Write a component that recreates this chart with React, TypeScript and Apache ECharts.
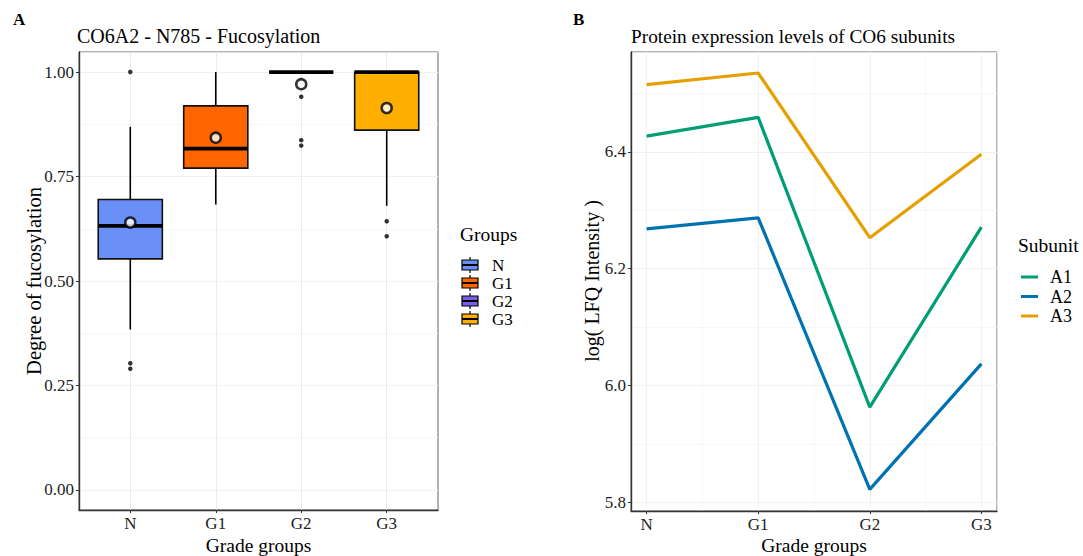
import React, { useEffect, useRef } from "react";
import * as echarts from "echarts";

const FONT = '"Liberation Serif", "Times New Roman", serif';

// ---- Panel A data ----
const groups = ["N", "G1", "G2", "G3"];
const groupColors = ["#6A8FF6", "#FF6600", "#7A5CE6", "#FFAF00"];
// [lower whisker, Q1, median, Q3, upper whisker]
const statsN = [0.384, 0.553, 0.632, 0.695, 0.869];
const statsG1 = [0.683, 0.77, 0.817, 0.919, 1.0];
const statsG2 = [1.0, 1.0, 1.0, 1.0, 1.0];
const statsG3 = [0.68, 0.861, 1.0, 1.0, 1.0];
const groupMeans = [0.64, 0.843, 0.971, 0.914];
const outliersN = [1.0, 0.303, 0.29];
const outliersG1: number[] = [];
const outliersG2 = [0.941, 0.837, 0.824];
const outliersG3 = [0.643, 0.607];
const leftYTicks = [0, 0.25, 0.5, 0.75, 1.0];

// ---- Panel B data ----
const subunits = ["A1", "A2", "A3"];
const subunitColors = ["#009E73", "#0072B2", "#E69F00"];
const seriesA1 = [6.427, 6.459, 5.963, 6.271];
const seriesA2 = [6.268, 6.287, 5.822, 6.037];
const seriesA3 = [6.515, 6.535, 6.253, 6.396];
const rightYTicks = [5.8, 6.0, 6.2, 6.4];
const xTickValues = [0, 1, 2, 3];

export default function App() {
  const ref = useRef<HTMLDivElement>(null);

  useEffect(() => {
    if (!ref.current) return;
    const chart = echarts.init(ref.current, undefined, { renderer: "svg" });

    const allStats = [statsN, statsG1, statsG2, statsG3];
    const allOutliers = [outliersN, outliersG1, outliersG2, outliersG3];
    const outlierData: number[][] = [];
    allOutliers.forEach((arr, i) => arr.forEach((v) => outlierData.push([i, v])));

    const majorGrid = { show: true, lineStyle: { color: "#EBEBEB", width: 1 } };
    const minorGrid = { show: true, lineStyle: { color: "#F3F3F3", width: 0.7 } };
    const tickLabel = { fontSize: 17, color: "#222", fontFamily: FONT };
    const axisLine = { show: true, onZero: false, lineStyle: { color: "#333", width: 1.4 } };
    const axisTick = { show: true, length: 3, lineStyle: { color: "#333", width: 1 } };
    const hiddenAxis = {
      axisLine: { show: false },
      axisTick: { show: false },
      axisLabel: { show: false },
    };
    const catFormatter = (v: number) => {
      const r = Math.round(v);
      return Math.abs(v - r) < 1e-6 && r >= 0 && r < groups.length ? groups[r] : "";
    };
    const multFormatter = (step: number, dec: number) => (v: number) => {
      const r = Math.round(v / step) * step;
      return Math.abs(v - r) < 1e-6 ? r.toFixed(dec) : "";
    };

    const legendRowsA = groups.map((g, i) => {
      const cy = 265 + i * 18;
      return {
        type: "group",
        children: [
          { type: "line", shape: { x1: 470, y1: cy - 8, x2: 470, y2: cy + 8 }, style: { stroke: "#000", lineWidth: 1.2 } },
          { type: "rect", shape: { x: 462, y: cy - 5, width: 16, height: 10 }, style: { fill: groupColors[i], stroke: "#000", lineWidth: 1.2 } },
          { type: "line", shape: { x1: 462, y1: cy, x2: 478, y2: cy }, style: { stroke: "#000", lineWidth: 2 } },
          { type: "text", x: 492, y: cy, style: { text: g, fontSize: 17, fontFamily: FONT, fill: "#000", textVerticalAlign: "middle" } },
        ],
      };
    });
    const legendRowsB = subunits.map((s, i) => {
      const cy = 277 + i * 19.5;
      return {
        type: "group",
        children: [
          { type: "line", shape: { x1: 1021, y1: cy, x2: 1038, y2: cy }, style: { stroke: subunitColors[i], lineWidth: 3 } },
          { type: "text", x: 1050, y: cy, style: { text: s, fontSize: 18, fontFamily: FONT, fill: "#000", textVerticalAlign: "middle" } },
        ],
      };
    });

    const option: any = {
      animation: false,
      backgroundColor: "#fff",
      textStyle: { fontFamily: FONT },
      grid: [
        { left: 79, top: 52, width: 359, height: 458, show: true, borderColor: "#666", borderWidth: 1, backgroundColor: "#fff" },
        { left: 631, top: 52, width: 366, height: 459, show: true, borderColor: "#666", borderWidth: 1, backgroundColor: "#fff" },
      ],
      xAxis: [
        {
          type: "value", gridIndex: 0, min: -0.6, max: 3.6, minInterval: 1, maxInterval: 1,
          axisLine, axisTick: { ...axisTick, customValues: xTickValues },
          axisLabel: { ...tickLabel, margin: 5, customValues: xTickValues, formatter: catFormatter },
          splitLine: majorGrid,
        },
        {
          type: "value", gridIndex: 1, min: -0.14, max: 3.14, minInterval: 1, maxInterval: 1,
          axisLine, axisTick: { ...axisTick, customValues: xTickValues },
          axisLabel: { ...tickLabel, margin: 5, customValues: xTickValues, formatter: catFormatter },
          splitLine: majorGrid,
        },
        {
          type: "value", gridIndex: 1, min: -0.14, max: 3.14, minInterval: 0.5, maxInterval: 0.5,
          ...hiddenAxis, splitLine: minorGrid, z: 0,
        },
      ],
      yAxis: [
        {
          type: "value", gridIndex: 0, min: -0.048, max: 1.048, minInterval: 0.25, maxInterval: 0.25,
          axisLine, axisTick: { ...axisTick, customValues: leftYTicks },
          axisLabel: { ...tickLabel, margin: 5, customValues: leftYTicks, formatter: multFormatter(0.25, 2) },
          splitLine: majorGrid,
        },
        {
          type: "value", gridIndex: 0, min: -0.048, max: 1.048, minInterval: 0.125, maxInterval: 0.125,
          ...hiddenAxis, splitLine: minorGrid, z: 0,
        },
        {
          type: "value", gridIndex: 1, min: 5.785, max: 6.571, minInterval: 0.2, maxInterval: 0.2,
          axisLine, axisTick: { ...axisTick, customValues: rightYTicks },
          axisLabel: { ...tickLabel, margin: 5, customValues: rightYTicks, formatter: multFormatter(0.2, 1) },
          splitLine: majorGrid,
        },
        {
          type: "value", gridIndex: 1, min: 5.785, max: 6.571, minInterval: 0.1, maxInterval: 0.1,
          ...hiddenAxis, splitLine: minorGrid, z: 0,
        },
      ],
      series: [
        {
          type: "custom",
          name: "boxes",
          xAxisIndex: 0,
          yAxisIndex: 0,
          z: 2,
          data: allStats.map((s, i) => [i, ...s]),
          encode: { x: 0, y: [1, 2, 3, 4, 5] },
          renderItem: (params: any, api: any) => {
            const x = api.value(0);
            const lo = api.coord([x, api.value(1)]);
            const q1 = api.coord([x, api.value(2)]);
            const med = api.coord([x, api.value(3)]);
            const q3 = api.coord([x, api.value(4)]);
            const hi = api.coord([x, api.value(5)]);
            const hw = api.size([0.75, 0])[0] / 2;
            const color = groupColors[params.dataIndex];
            return {
              type: "group",
              children: [
                { type: "line", shape: { x1: q3[0], y1: q3[1], x2: hi[0], y2: hi[1] }, style: { stroke: "#000", lineWidth: 1.6 } },
                { type: "line", shape: { x1: q1[0], y1: q1[1], x2: lo[0], y2: lo[1] }, style: { stroke: "#000", lineWidth: 1.6 } },
                { type: "rect", shape: { x: q1[0] - hw, y: q3[1], width: hw * 2, height: q1[1] - q3[1] }, style: { fill: color, stroke: "#111", lineWidth: 1.6 } },
                { type: "line", shape: { x1: med[0] - hw, y1: med[1], x2: med[0] + hw, y2: med[1] }, style: { stroke: "#000", lineWidth: 3.8 } },
              ],
            };
          },
        },
        {
          type: "scatter",
          name: "outliers",
          xAxisIndex: 0,
          yAxisIndex: 0,
          z: 3,
          symbolSize: 4.5,
          itemStyle: { color: "#000" },
          data: outlierData,
        },
        {
          type: "scatter",
          name: "mean",
          xAxisIndex: 0,
          yAxisIndex: 0,
          z: 4,
          symbolSize: 10,
          itemStyle: { color: "#fff", borderColor: "#000", borderWidth: 2.5 },
          data: groupMeans.map((m, i) => [i, m]),
        },
        ...[seriesA1, seriesA2, seriesA3].map((arr, k) => ({
          type: "line",
          name: subunits[k],
          xAxisIndex: 1,
          yAxisIndex: 2,
          z: 3,
          showSymbol: false,
          lineStyle: { color: subunitColors[k], width: 3.2 },
          itemStyle: { color: subunitColors[k] },
          data: arr.map((v, i) => [i, v]),
        })),
      ],
      graphic: [
        { type: "text", x: 13, y: 19, style: { text: "A", fontSize: 17, fontWeight: "bold", fontFamily: FONT, fill: "#000", textVerticalAlign: "middle" } },
        { type: "text", x: 573, y: 19, style: { text: "B", fontSize: 17, fontWeight: "bold", fontFamily: FONT, fill: "#000", textVerticalAlign: "middle" } },
        { type: "text", x: 77, y: 36, style: { text: "CO6A2 - N785 - Fucosylation", fontSize: 20, fontFamily: FONT, fill: "#000", textVerticalAlign: "middle" } },
        { type: "text", x: 631, y: 36, style: { text: "Protein expression levels of CO6 subunits", fontSize: 19.3, fontFamily: FONT, fill: "#000", textVerticalAlign: "middle" } },
        { type: "text", x: 34, y: 281, rotation: Math.PI / 2, style: { text: "Degree of fucosylation", fontSize: 20.5, fontFamily: FONT, fill: "#000", textAlign: "center", textVerticalAlign: "middle" } },
        { type: "text", x: 592, y: 281, rotation: Math.PI / 2, style: { text: "log( LFQ Intensity )", fontSize: 20, fontFamily: FONT, fill: "#000", textAlign: "center", textVerticalAlign: "middle" } },
        { type: "text", x: 258.5, y: 545, style: { text: "Grade groups", fontSize: 19.5, fontFamily: FONT, fill: "#000", textAlign: "center", textVerticalAlign: "middle" } },
        { type: "text", x: 814, y: 545, style: { text: "Grade groups", fontSize: 19.5, fontFamily: FONT, fill: "#000", textAlign: "center", textVerticalAlign: "middle" } },
        { type: "text", x: 460, y: 234, style: { text: "Groups", fontSize: 19.5, fontFamily: FONT, fill: "#000", textVerticalAlign: "middle" } },
        ...legendRowsA,
        { type: "text", x: 1018, y: 245, style: { text: "Subunit", fontSize: 19.5, fontFamily: FONT, fill: "#000", textVerticalAlign: "middle" } },
        ...legendRowsB,
      ],
    };

    chart.setOption(option);
    return () => chart.dispose();
  }, []);

  return (
    <div
      ref={ref}
      style={{ position: "fixed", left: 0, top: 0, width: 1083, height: 556, background: "#fff" }}
    />
  );
}
